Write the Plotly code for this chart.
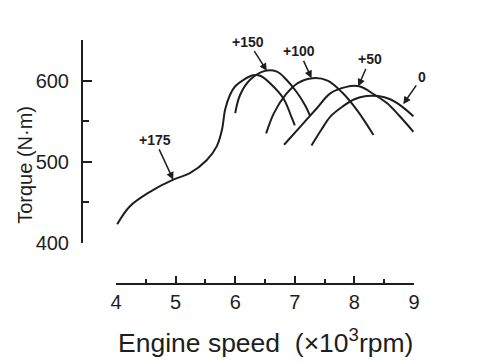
import plotly.graph_objects as go

# Engine speed (x10^3 rpm) and torque (N·m), one curve per offset
rpm_175 = [4.02, 4.23, 4.57, 4.96, 5.24, 5.52, 5.69, 5.78, 5.83, 5.91, 6.0, 6.14, 6.3, 6.42, 6.61, 6.81, 6.95, 7.0]
torque_175 = [423, 445, 463, 478, 486, 502, 519, 540, 564, 582, 593, 601, 606.5, 606, 595, 578, 554, 545]
rpm_150 = [6.0, 6.08, 6.25, 6.5, 6.7, 6.86, 7.03, 7.17, 7.26]
torque_150 = [560, 582, 601, 612, 611, 601, 586, 570, 556]
rpm_100 = [6.52, 6.65, 6.85, 7.05, 7.3, 7.55, 7.8, 8.05, 8.32]
torque_100 = [535, 560, 583, 597, 603, 600, 585, 563, 533]
rpm_50 = [6.82, 7.09, 7.37, 7.59, 7.85, 8.08, 8.35, 8.55, 8.75, 8.99]
torque_50 = [521, 543, 566, 584, 592, 593, 582, 572, 557, 537]
rpm_0 = [7.28, 7.45, 7.6, 7.8, 8.0, 8.2, 8.4, 8.6, 8.8, 8.99]
torque_0 = [520, 540, 556, 568, 577, 581, 581, 577, 568, 556]

labels = ["+175", "+150", "+100", "+50", "0"]
label_tip_rpm = [4.96, 6.53, 7.28, 8.065, 8.82]
label_tip_torque = [478, 612, 603, 593, 571]
label_text_rpm = [4.65, 6.22, 7.075, 8.26, 9.13]
label_text_torque = [527, 648, 636, 626, 604]

x_ticks = [4, 5, 6, 7, 8, 9]
y_ticks = [400, 500, 600]

INK = "#1e1e1e"
FONT = "Liberation Sans, Arial, sans-serif"

fig = go.Figure()
for xs, ys in [(rpm_175, torque_175), (rpm_150, torque_150), (rpm_100, torque_100),
               (rpm_50, torque_50), (rpm_0, torque_0)]:
    fig.add_trace(go.Scatter(x=xs, y=ys, mode="lines",
                             line=dict(color=INK, width=2, shape="spline", smoothing=1.0),
                             hoverinfo="skip", showlegend=False))

for t, tx, ty, lx, ly in zip(labels, label_tip_rpm, label_tip_torque, label_text_rpm, label_text_torque):
    fig.add_annotation(x=tx, y=ty, ax=lx, ay=ly, xref="x", yref="y", axref="x", ayref="y",
                       text="<b>" + t + "</b>", showarrow=True, arrowhead=2, arrowsize=1,
                       arrowwidth=1.5, arrowcolor=INK, standoff=0,
                       font=dict(family=FONT, size=14, color=INK))

# axis titles
fig.add_annotation(x=-0.172, y=0.488, xref="paper", yref="paper", text="Torque (N·m)",
                   xanchor="center", yanchor="middle",
                   textangle=-90, showarrow=False, font=dict(family=FONT, size=20, color=INK))
fig.add_annotation(x=0.554, y=-0.232, xref="paper", yref="paper",
                   xanchor="center", yanchor="middle",
                   text="Engine speed&nbsp;&nbsp;(×10<sup>3</sup>rpm)",
                   showarrow=False, font=dict(family=FONT, size=26.5, color=INK))

fig.update_layout(
    template="none",
    width=483, height=363,
    margin=dict(l=74, r=77, t=32, b=87, autoexpand=False),
    paper_bgcolor="white", plot_bgcolor="white",
    xaxis=dict(range=[4, 9], domain=[34 / 332, 1], anchor="free", position=0, automargin=False,
               tickvals=x_ticks, ticktext=[str(v) for v in x_ticks],
               ticks="inside", ticklen=7, tickwidth=1.5, tickcolor=INK,
               minor=dict(dtick=0.5, ticks="inside", ticklen=4, tickwidth=1.5, tickcolor=INK),
               showline=True, linecolor=INK, linewidth=2, showgrid=False, zeroline=False,
               tickfont=dict(family=FONT, size=20, color=INK), ticklabelstandoff=0),
    yaxis=dict(range=[400, 650], domain=[41 / 244, 1], anchor="free", position=0, automargin=False,
               tickvals=y_ticks, ticktext=[str(v) for v in y_ticks],
               ticks="inside", ticklen=9, tickwidth=1.5, tickcolor=INK,
               minor=dict(dtick=50, ticks="inside", ticklen=6, tickwidth=1.5, tickcolor=INK),
               showline=True, linecolor=INK, linewidth=2, showgrid=False, zeroline=False,
               tickfont=dict(family=FONT, size=20, color=INK), ticklabelstandoff=8),
)

fig.write_html("out.html")
